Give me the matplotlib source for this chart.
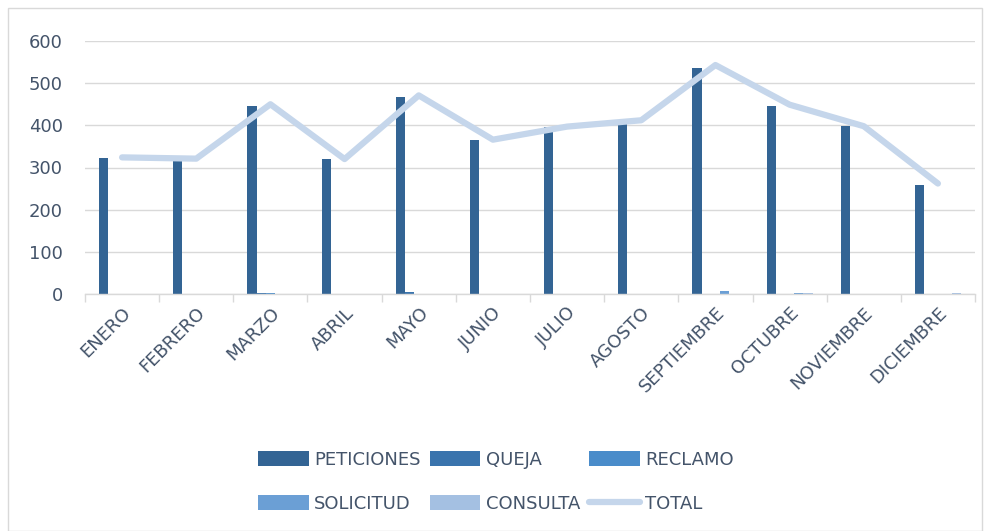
import matplotlib
matplotlib.use("Agg")
import matplotlib.pyplot as plt
import numpy as np
from matplotlib.patches import Rectangle

meses = ["ENERO", "FEBRERO", "MARZO", "ABRIL", "MAYO", "JUNIO", "JULIO",
         "AGOSTO", "SEPTIEMBRE", "OCTUBRE", "NOVIEMBRE", "DICIEMBRE"]
peticiones = [322, 315, 446, 320, 467, 365, 396, 410, 536, 446, 398, 258]
queja      = [0, 0, 2, 0, 4, 0, 0, 0, 0, 0, 0, 0]
reclamo    = [0, 0, 2, 0, 0, 0, 0, 0, 0, 0, 0, 0]
solicitud  = [0, 0, 0, 0, 0, 0, 0, 0, 7, 2, 0, 0]
consulta   = [0, 0, 0, 0, 0, 0, 0, 0, 0, 2, 0, 2]
total      = [324, 321, 450, 320, 471, 366, 397, 412, 543, 449, 398, 262]
yticks = [0, 100, 200, 300, 400, 500, 600]

series = [("PETICIONES", peticiones, "#336494"),
          ("QUEJA", queja, "#3a74ad"),
          ("RECLAMO", reclamo, "#4a8cca"),
          ("SOLICITUD", solicitud, "#6b9fd5"),
          ("CONSULTA", consulta, "#a4c0e2")]
line_color = "#c5d6eb"
text_color = "#44546a"

fig = plt.figure(figsize=(9.9, 5.31), dpi=100)
ax = fig.add_axes([85/990, 1-294/531, 890/990, 253/531])

x = np.arange(len(meses))
n = len(series)
w = 0.124
offsets = (np.arange(n) - (n-1)/2) * w
for (name, vals, col), off in zip(series, offsets):
    ax.bar(x + off, vals, width=w, color=col, label=name, zorder=2)
ax.plot(x, total, color=line_color, lw=4.5, solid_capstyle="round",
        solid_joinstyle="round", label="TOTAL", zorder=3)

ax.set_xlim(-0.5, len(meses) - 0.5)
ax.set_ylim(0, 600)
ax.set_yticks(yticks)
ax.set_yticklabels([str(v) for v in yticks])
ax.grid(axis="y", color="#d9d9d9", lw=1, zorder=0)
ax.set_axisbelow(True)
for s in ["top", "right", "left"]:
    ax.spines[s].set_visible(False)
ax.spines["bottom"].set_color("#d9d9d9")
ax.spines["bottom"].set_linewidth(1)

ax.set_xticks(x)
ax.set_xticklabels(meses, rotation=45, ha="right", rotation_mode="anchor",
                   fontsize=13, color=text_color)
ax.tick_params(axis="x", length=0, pad=7)
ax.set_xticks(np.arange(len(meses)+1) - 0.5, minor=True)
ax.tick_params(axis="x", which="minor", length=6, color="#d9d9d9", width=1)
ax.tick_params(axis="y", length=0, labelsize=13, labelcolor=text_color, pad=16)

h, l = ax.get_legend_handles_labels()
hd = dict(zip(l, h))
order = ["PETICIONES", "SOLICITUD", "QUEJA", "CONSULTA", "RECLAMO", "TOTAL"]
leg = fig.legend([hd[k] for k in order], order, ncol=3, loc="center",
                 bbox_to_anchor=(496/990, 1-482/531), frameon=False,
                 fontsize=13, handlelength=2.8, handleheight=0.9,
                 handletextpad=0.3, columnspacing=0.5, labelspacing=1.45)
for t in leg.get_texts():
    t.set_color(text_color)

fig.patches.append(Rectangle((8/990, 0), 1-16/990, 1-8/531, transform=fig.transFigure,
                             fill=False, edgecolor="#d9d9d9", lw=1))

fig.savefig("out.png", dpi=100)
